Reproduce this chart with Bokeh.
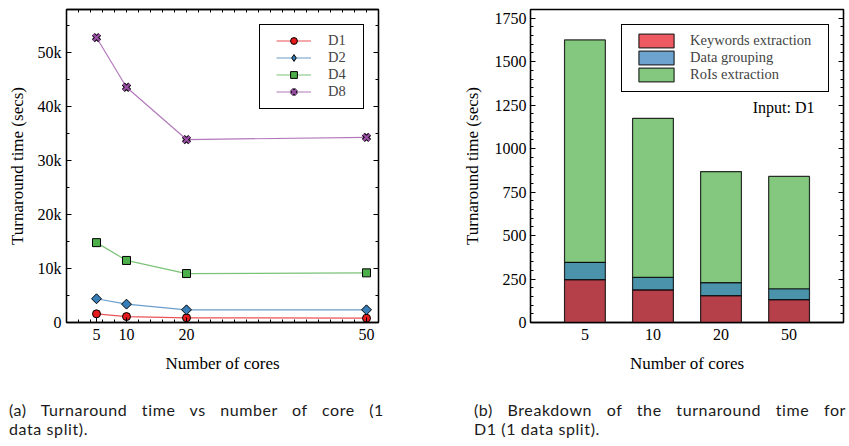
import math
from bokeh.plotting import figure
from bokeh.models import (LinearAxis, FixedTicker, Range1d, FactorRange, Legend,
                          LegendItem, Label, Div, ColumnDataSource, CustomJSTickFormatter)
from bokeh.layouts import column, row
from bokeh.embed import file_html
from bokeh.resources import INLINE

# ---------------- data ----------------
cores = [5, 10, 20, 50]
d1 = [1600, 1100, 870, 800]
d2 = [4400, 3400, 2350, 2350]
d4 = [14800, 11500, 9070, 9200]
d8 = [52800, 43600, 33900, 34300]
series_names = ["D1", "D2", "D4", "D8"]

y1_ticks = [0, 10000, 20000, 30000, 40000, 50000]
y1_tick_labels = ["0", "10k", "20k", "30k", "40k", "50k"]

core_labels = ["5", "10", "20", "50"]
keywords = [246, 188, 154, 131]
grouping = [100, 71, 75, 63]
rois = [1279, 915, 639, 646]
stack_names = ["Keywords extraction", "Data grouping", "RoIs extraction"]
y2_ticks = [0, 250, 500, 750, 1000, 1250, 1500, 1750]

# ---------------- style ----------------
SERIF = "Liberation Serif"
TICK_FS = "16px"
LABEL_FS = "17px"
LEG_FS = "14.5px"


def style_axis(ax, tick_in=5, minor_in=3):
    ax.axis_line_color = "black"
    ax.axis_line_width = 1.3
    ax.major_tick_in = tick_in
    ax.major_tick_out = 0
    ax.minor_tick_in = minor_in
    ax.minor_tick_out = 0
    ax.major_tick_line_color = "black"
    ax.minor_tick_line_color = "black"
    ax.major_label_text_font = SERIF
    ax.major_label_text_font_size = TICK_FS
    ax.major_label_text_color = "black"
    ax.axis_label_text_font = SERIF
    ax.axis_label_text_font_size = LABEL_FS
    ax.axis_label_text_font_style = "normal"
    ax.axis_label_text_color = "black"


def blank_axis(ticker, tick_in=5, minor_in=3):
    ax = LinearAxis(ticker=ticker,
                    formatter=CustomJSTickFormatter(code="return ''"),
                    major_label_standoff=0)
    style_axis(ax, tick_in, minor_in)
    return ax


# ---------------- left plot ----------------
p1 = figure(width=440, height=395, x_range=Range1d(0, 52), y_range=Range1d(0, 58000),
            output_backend="svg", toolbar_location=None,
            min_border_left=66, min_border_right=62, min_border_top=9, min_border_bottom=73)
p1.grid.visible = False
p1.outline_line_color = "black"
p1.outline_line_width = 1.3

x_minor = list(range(2, 53, 2))
y1_minor = list(range(0, 58001, 5000))

xa1 = p1.xaxis[0]
ya1 = p1.yaxis[0]
xa1.ticker = FixedTicker(ticks=cores, minor_ticks=x_minor)
xa1.axis_label = "Number of cores"
ya1.ticker = FixedTicker(ticks=y1_ticks, minor_ticks=y1_minor)
ya1.major_label_overrides = {t: l for t, l in zip(y1_ticks, y1_tick_labels)}
ya1.axis_label = "Turnaround time (secs)"
style_axis(xa1)
style_axis(ya1)
xa1.major_label_standoff = 6
xa1.axis_label_standoff = 11
ya1.major_label_standoff = 5
ya1.axis_label_standoff = 8

p1.add_layout(blank_axis(FixedTicker(ticks=[], minor_ticks=x_minor), 0, 3), "above")
p1.add_layout(blank_axis(FixedTicker(ticks=y1_ticks, minor_ticks=y1_minor)), "right")

colors1 = ["#e41a1c", "#377eb8", "#4daf4a", "#984ea3"]
values1 = [d1, d2, d4, d8]
items1 = []
for name, vals, col in zip(series_names, values1, colors1):
    src = ColumnDataSource(dict(x=cores, y=vals))
    rl = p1.line("x", "y", source=src, line_color=col, line_width=1.2, line_alpha=0.75)
    rends = [rl]
    if name == "D1":
        rends.append(p1.scatter("x", "y", source=src, marker="circle", size=8,
                                fill_color=col, line_color="black", line_width=1))
    elif name == "D2":
        p1.scatter("x", "y", source=src, marker="square", size=7,
                   angle=math.pi / 4, fill_color=col, line_color="black", line_width=1)
        # legend-only glyph (point lying below the visible y range)
        off = ColumnDataSource(dict(x=[cores[0]], y=[-10000]))
        rends.append(p1.scatter("x", "y", source=off, marker="diamond", size=10,
                                fill_color=col, line_color="black", line_width=1))
    elif name == "D4":
        rends.append(p1.scatter("x", "y", source=src, marker="square", size=8,
                                fill_color=col, line_color="black", line_width=1))
    else:
        rends.append(p1.scatter("x", "y", source=src, marker="x", size=9,
                                line_color="black", line_width=4.2))
        rends.append(p1.scatter("x", "y", source=src, marker="x", size=9,
                                line_color=col, line_width=2.3))
    items1.append(LegendItem(label=name, renderers=rends))

leg1 = Legend(items=items1, location=(193, 213),
              padding=dict(left=16, right=15, top=7, bottom=8), spacing=0, margin=0,
              glyph_width=35, glyph_height=17, label_height=17, label_standoff=17,
              label_width=20, label_text_font=SERIF, label_text_font_size=LEG_FS,
              border_line_color="black", border_line_width=1, border_line_alpha=1,
              background_fill_alpha=1)
p1.add_layout(leg1)

# ---------------- right plot ----------------
p2 = figure(width=409, height=395, x_range=FactorRange(factors=core_labels, range_padding=0.15),
            y_range=Range1d(0, 1800), output_backend="svg", toolbar_location=None,
            min_border_left=90, min_border_right=6, min_border_top=9, min_border_bottom=73)
p2.grid.visible = False
p2.outline_line_color = "black"
p2.outline_line_width = 1.3

y2_minor = list(range(0, 1801, 50))
xa2 = p2.xaxis[0]
ya2 = p2.yaxis[0]
ya2.ticker = FixedTicker(ticks=y2_ticks, minor_ticks=y2_minor)
ya2.axis_label = "Turnaround time (secs)"
xa2.axis_label = "Number of cores"
style_axis(xa2)
style_axis(ya2)
xa2.major_tick_in = 0
xa2.major_label_standoff = 6
xa2.axis_label_standoff = 11
ya2.major_label_standoff = 4
ya2.axis_label_standoff = 10
p2.add_layout(blank_axis(FixedTicker(ticks=y2_ticks, minor_ticks=y2_minor)), "right")

bar_colors = ["#b5404a", "#4a93aa", "#84c77f"]
legend_colors = ["#ee5a62", "#6fa3cf", "#84c77f"]
src2 = ColumnDataSource(dict(cores=core_labels, k=keywords, g=grouping, r=rois))
p2.vbar_stack(["k", "g", "r"], x="cores", width=0.6, source=src2,
              fill_color=bar_colors, line_color="black", line_width=1.2, line_alpha=0.8)

items2 = []
for name, col in zip(stack_names, legend_colors):
    # legend-only glyph: a bar lying below the visible y range
    dummy = p2.vbar(x="x", top="top", bottom="bottom", width=0.6,
                    source=ColumnDataSource(dict(x=[core_labels[0]], top=[-50], bottom=[-100])),
                    fill_color=col, line_color="black", line_width=1.2, line_alpha=0.8)
    items2.append(LegendItem(label=name, renderers=[dummy]))

leg2 = Legend(items=items2, location=(91, 230),
              padding=dict(left=12, right=17, top=7, bottom=8), spacing=0, margin=0,
              glyph_width=44, glyph_height=17, label_height=17, label_standoff=12,
              label_width=120, label_text_font=SERIF, label_text_font_size=LEG_FS,
              border_line_color="black", border_line_width=1, border_line_alpha=1,
              background_fill_alpha=1)
p2.add_layout(leg2)

p2.add_layout(Label(x=284, y=215, x_units="screen", y_units="screen", text="Input: D1",
                    text_align="right", text_baseline="middle", text_font=SERIF,
                    text_font_size="16px", text_color="black"))

# ---------------- captions ----------------
TXT = ("font-family:Lato;font-size:16px;line-height:19px;letter-spacing:0.6px;"
       "color:#1a1a1a;position:absolute;top:0px;white-space:nowrap;")
JL = "text-align:justify;text-align-last:justify;"
captions = Div(text=(
    '<div style="position:relative;width:845px;height:50px;">'
    f'<div style="{TXT}left:4px;width:375px;">'
    f'<div style="{JL}">(a) Turnaround time vs number of core (1</div>'
    '<div>data split).</div></div>'
    f'<div style="{TXT}left:469px;width:372px;">'
    f'<div style="{JL}">(b) Breakdown of the turnaround time for</div>'
    '<div>D1 (1 data split).</div></div>'
    '</div>'), width=849, height=50)

layout = column(row(p1, p2), captions)

open("out.html", "w").write(file_html(layout, INLINE))
